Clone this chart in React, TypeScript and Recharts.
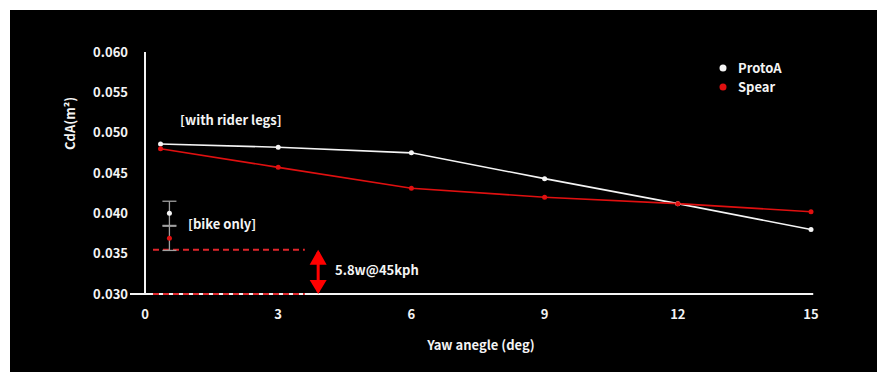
import {
  ComposedChart,
  Line,
  Scatter,
  ErrorBar,
  XAxis,
  YAxis,
  Legend,
  ReferenceLine,
  ReferenceDot,
} from "recharts";

const FONT = '"Noto Sans CJK SC", "Noto Sans", sans-serif';
const WHITE = "#f4f4f4";
const RED = "#e01010";

const yawAngles = [0.35, 3, 6, 9, 12, 15];
const protoAValues = [0.0486, 0.0482, 0.0475, 0.0443, 0.0412, 0.038];
const spearValues = [0.048, 0.0457, 0.0431, 0.042, 0.0412, 0.0402];

const bikeOnlyYaw = 0.55;
const bikeOnlyProtoA = 0.04;
const bikeOnlySpear = 0.0369;
const bikeOnlyError = 0.0015;

const xTicks = [0, 3, 6, 9, 12, 15];
const yTicks = [0.03, 0.035, 0.04, 0.045, 0.05, 0.055, 0.06];

const protoAData = yawAngles.map((x, i) => ({ x, y: protoAValues[i] }));
const spearData = yawAngles.map((x, i) => ({ x, y: spearValues[i] }));
const bikeProtoData = [{ x: bikeOnlyYaw, y: bikeOnlyProtoA, err: bikeOnlyError }];
const bikeSpearData = [{ x: bikeOnlyYaw, y: bikeOnlySpear, err: bikeOnlyError }];

const legendItems = [
  { name: "ProtoA", color: WHITE },
  { name: "Spear", color: RED },
];

const textStyle = { fill: WHITE, fontSize: 13, fontWeight: 700, fontFamily: FONT };

const YTick = (props: any) => {
  const { x, y, payload } = props;
  const isBottom = Math.abs(payload.value - 0.03) < 1e-9;
  return (
    <g>
      <text x={x} y={y} dy={4.5} textAnchor="end" {...textStyle}>
        {payload.value.toFixed(3)}
      </text>
      {isBottom && <line x1={x + 2} x2={x + 17} y1={y} y2={y} stroke={WHITE} strokeWidth={2} />}
    </g>
  );
};

const renderLegend = () => (
  <svg width={90} height={42} style={{ display: "block" }}>
    {legendItems.map((item, i) => (
      <g key={item.name}>
        <circle cx={4} cy={9 + i * 19} r={3.5} fill={item.color} />
        <text x={19} y={9 + i * 19} dy={4.5} {...textStyle}>
          {item.name}
        </text>
      </g>
    ))}
  </svg>
);

const TextMark = ({ cx, cy, text }: any) => (
  <text x={cx} y={cy} dy={4.5} textAnchor="start" {...textStyle}>
    {text}
  </text>
);

const ArrowHead = ({ cx, cy, up }: any) => {
  const h = up ? 15 : -14;
  return <path d={`M${cx},${cy} L${cx - 8.5},${cy + h} L${cx + 8.5},${cy + h} Z`} fill="#ff0000" />;
};

export default function App() {
  return (
    <div style={{ position: "absolute", left: 0, top: 0, width: 887, height: 381, background: "#fff" }}>
      <div style={{ position: "absolute", left: 10, top: 10, width: 867, height: 362, background: "#000" }} />
      <div style={{ position: "absolute", left: 0, top: 0 }}>
        <ComposedChart width={887} height={381} margin={{ top: 52, right: 76, bottom: 27, left: 0 }}>
          <XAxis
            type="number"
            dataKey="x"
            domain={[0, 15]}
            ticks={xTicks}
            height={60}
            axisLine={false}
            tickLine={false}
            tickSize={0}
            tickMargin={16}
            tick={textStyle}
            label={{
              content: ({ viewBox }: any) => (
                <text x={viewBox.x + viewBox.width / 2 + 3} y={350} textAnchor="middle" {...textStyle}>
                  Yaw anegle (deg)
                </text>
              ),
            }}
          />
          <YAxis
            type="number"
            dataKey="y"
            domain={[0.03, 0.06]}
            ticks={yTicks}
            width={145}
            axisLine={{ stroke: WHITE, strokeWidth: 2 }}
            tickLine={false}
            tickSize={0}
            tickMargin={17}
            tick={<YTick />}
            label={{
              content: () => (
                <text x={69} y={150} textAnchor="start" dominantBaseline="central" transform="rotate(-90 69 150)" {...textStyle}>
                  CdA(m²)
                </text>
              ),
            }}
          />
          <Legend
            layout="vertical"
            align="center"
            verticalAlign="middle"
            content={renderLegend}
            wrapperStyle={{ left: 719, top: 59, width: "auto" }}
          />

          {/* horizontal axis line, drawn as a reference line so the dashed marker can sit on top */}
          <ReferenceLine
            segment={[{ x: 0, y: 0.03 }, { x: 15.05, y: 0.03 }]}
            stroke={WHITE}
            strokeWidth={2}
            ifOverflow="visible"
          />
          <ReferenceLine
            segment={[{ x: 0.18, y: 0.0355 }, { x: 3.6, y: 0.0355 }]}
            stroke="#e0262b"
            strokeWidth={2}
            strokeDasharray="6 4"
            ifOverflow="visible"
          />
          <ReferenceLine
            segment={[{ x: 0.18, y: 0.03 }, { x: 3.6, y: 0.03 }]}
            stroke="#e0262b"
            strokeWidth={2}
            strokeDasharray="6 4"
            ifOverflow="visible"
          />
          <ReferenceLine
            segment={[{ x: 3.9, y: 0.0352 }, { x: 3.9, y: 0.0303 }]}
            stroke="#ff0000"
            strokeWidth={3}
            ifOverflow="visible"
          />
          <ReferenceDot x={3.9} y={0.0355} ifOverflow="visible" shape={(p: any) => <ArrowHead {...p} up />} />
          <ReferenceDot x={3.9} y={0.03} ifOverflow="visible" shape={(p: any) => <ArrowHead {...p} up={false} />} />
          <ReferenceDot x={4.28} y={0.0329} shape={(p: any) => <TextMark {...p} text="5.8w@45kph" />} />
          <ReferenceDot x={0.79} y={0.05145} shape={(p: any) => <TextMark {...p} text="[with rider legs]" />} />
          <ReferenceDot x={0.97} y={0.0386} shape={(p: any) => <TextMark {...p} text="[bike only]" />} />

          <Line
            data={protoAData}
            dataKey="y"
            name="ProtoA"
            stroke={WHITE}
            strokeWidth={1.6}
            dot={{ r: 2.5, fill: WHITE, stroke: "none" }}
            activeDot={false}
            isAnimationActive={false}
          />
          <Line
            data={spearData}
            dataKey="y"
            name="Spear"
            stroke={RED}
            strokeWidth={1.6}
            dot={{ r: 2.5, fill: RED, stroke: "none" }}
            activeDot={false}
            isAnimationActive={false}
          />
          <Scatter data={bikeProtoData} fill={WHITE} isAnimationActive={false} shape={(p: any) => <circle cx={p.cx} cy={p.cy} r={2.5} fill={WHITE} />}>
            <ErrorBar dataKey="err" direction="y" width={7} stroke="#a0a0a0" strokeWidth={1.3} isAnimationActive={false} />
          </Scatter>
          <Scatter data={bikeSpearData} fill={RED} isAnimationActive={false} shape={(p: any) => <circle cx={p.cx} cy={p.cy} r={2.5} fill={RED} />}>
            <ErrorBar dataKey="err" direction="y" width={7} stroke="#a0a0a0" strokeWidth={1.3} isAnimationActive={false} />
          </Scatter>
        </ComposedChart>
      </div>
    </div>
  );
}
